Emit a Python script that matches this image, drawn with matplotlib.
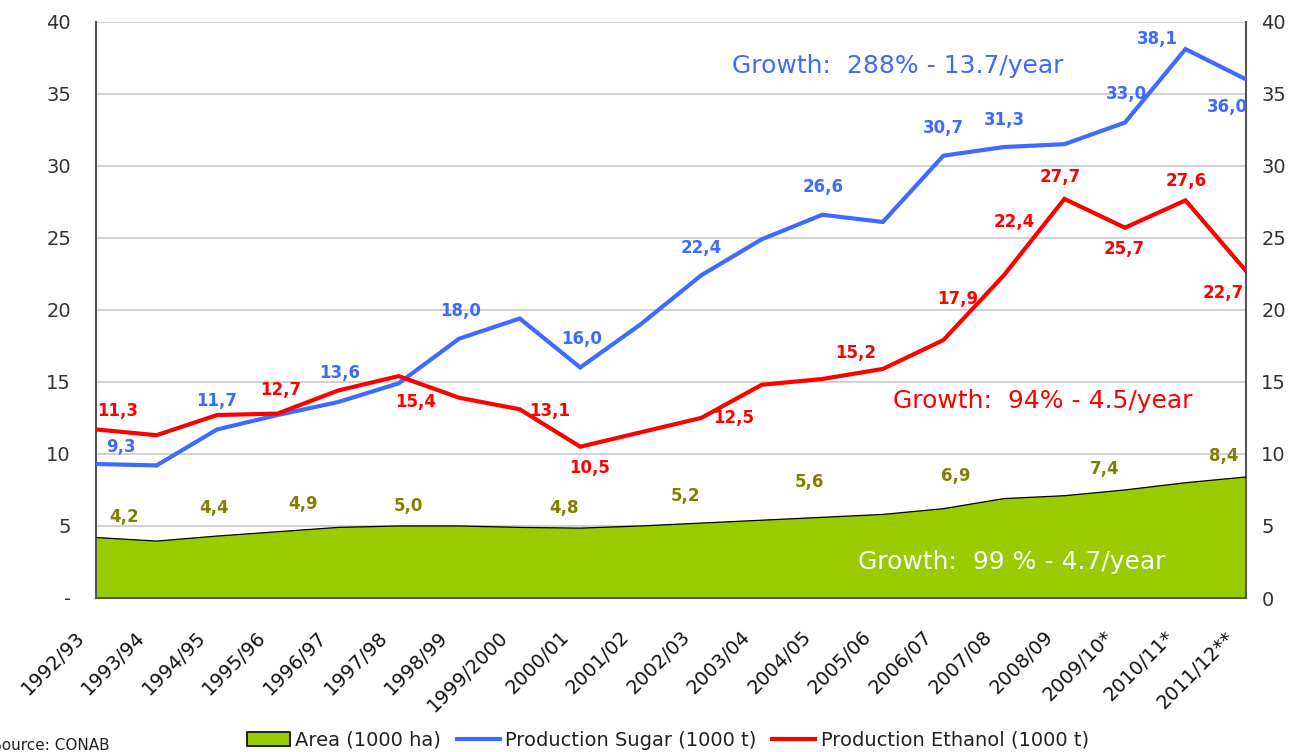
import matplotlib
matplotlib.use("Agg")
import matplotlib.pyplot as plt
import matplotlib.patches as mpatches
import matplotlib.lines as mlines
import matplotlib.transforms as mtransforms
import numpy as np

# ---------------- data ----------------
seasons = ["1992/93", "1993/94", "1994/95", "1995/96", "1996/97", "1997/98",
           "1998/99", "1999/2000", "2000/01", "2001/02", "2002/03", "2003/04",
           "2004/05", "2005/06", "2006/07", "2007/08", "2008/09", "2009/10*",
           "2010/11*", "2011/12**"]
sugar = [9.3, 9.2, 11.7, 12.7, 13.6, 14.9, 18.0, 19.4, 16.0, 19.0, 22.4, 24.9,
         26.6, 26.1, 30.7, 31.3, 31.5, 33.0, 38.1, 36.0]
ethanol = [11.7, 11.3, 12.7, 12.8, 14.4, 15.4, 13.9, 13.1, 10.5, 11.5, 12.5, 14.8,
           15.2, 15.9, 17.9, 22.4, 27.7, 25.7, 27.6, 22.7]
area = [4.2, 3.95, 4.3, 4.6, 4.9, 5.0, 5.0, 4.9, 4.85, 5.0, 5.2, 5.4,
        5.6, 5.8, 6.2, 6.9, 7.1, 7.5, 8.0, 8.4]

sugar_label_text = ["9,3", "11,7", "13,6", "18,0", "16,0", "22,4", "26,6",
                    "30,7", "31,3", "33,0", "38,1", "36,0"]
ethanol_label_text = ["11,3", "12,7", "15,4", "13,1", "10,5", "12,5", "15,2",
                      "17,9", "22,4", "27,7", "25,7", "27,6", "22,7"]
area_label_text = ["4,2", "4,4", "4,9", "5,0", "4,8", "5,2", "5,6", "6,9",
                   "7,4", "8,4"]

growth_sugar = "Growth:  288% - 13.7/year"
growth_ethanol = "Growth:  94% - 4.5/year"
growth_area = "Growth:  99 % - 4.7/year"

left_ticks = [0, 5, 10, 15, 20, 25, 30, 35, 40]
left_tick_labels = ["-", "5", "10", "15", "20", "25", "30", "35", "40"]

# ---------------- layout (label placement, data coords) ----------------
sugar_label_pos = [(0.41, 10.47), (2.0, 13.69), (4.02, 15.6), (6.02, 19.9),
                   (8.03, 18.0), (10.0, 24.3), (12.02, 28.5), (14.0, 32.6),
                   (15.01, 33.2), (17.02, 34.96), (17.54, 38.77), (18.69, 34.08)]
ethanol_label_pos = [(0.36, 13.0), (3.06, 14.45), (5.29, 13.6), (7.5, 13.0),
                     (8.15, 9.05), (10.53, 12.5), (12.55, 17.0), (14.23, 20.78),
                     (15.17, 26.1), (15.93, 29.2), (16.98, 24.19), (18.02, 28.96),
                     (18.63, 21.19)]
area_label_pos = [(0.46, 5.59), (1.95, 6.27), (3.42, 6.54), (5.16, 6.4),
                  (7.74, 6.27), (9.74, 7.06), (11.79, 8.04), (14.21, 8.5),
                  (16.66, 8.97), (18.63, 9.87)]

BLUE = "#3d6bff"
RED = "#ff0000"
GREEN = "#99cc00"
OLIVE = "#808000"
FONT = "DejaVu Sans"

plt.rcParams["font.family"] = [FONT]

fig = plt.figure(figsize=(12.92, 7.52), dpi=100)
ax = fig.add_axes([96 / 1292, 1 - 598 / 752, 1150 / 1292, (598 - 21.7) / 752])

x = np.arange(len(seasons))

ax.fill_between(x, 0, area, color=GREEN, zorder=2)
ax.plot(x, area, color="black", lw=0.9, zorder=3)
ax.plot(x, sugar, color=BLUE, lw=3, zorder=4, solid_joinstyle="miter")
ax.plot(x, ethanol, color=RED, lw=3, zorder=4, solid_joinstyle="miter")

ax.set_xlim(0, len(seasons) - 1)
ax.set_ylim(0, 40)

ax.set_yticks(left_ticks)
ax.set_yticklabels(left_tick_labels, fontsize=14, color="#333333")
ax.yaxis.grid(True, color="#c8c8c8", lw=1.2, zorder=0)
ax.set_axisbelow(True)
ax.tick_params(axis="y", length=0, pad=18)

ax.set_xticks(x)
ax.set_xticklabels(seasons, rotation=45, ha="right", rotation_mode="anchor",
                   fontsize=14, color="#111111")
ax.tick_params(axis="x", length=0, pad=14)
shift = mtransforms.ScaledTranslation(-0.21, -0.10, fig.dpi_scale_trans)
for lbl in ax.get_xticklabels():
    lbl.set_transform(lbl.get_transform() + shift)

for s in ["left", "bottom", "right"]:
    ax.spines[s].set_color("#555555")
    ax.spines[s].set_linewidth(1.5)
ax.spines["top"].set_visible(False)

ax2 = ax.twinx()
ax2.set_ylim(0, 40)
ax2.set_yticks(left_ticks)
ax2.set_yticklabels([str(v) for v in left_ticks], fontsize=14, color="#333333")
ax2.tick_params(axis="y", length=0, pad=11)
for s in ["left", "bottom", "right", "top"]:
    ax2.spines[s].set_visible(False)

for t, (px, py) in zip(sugar_label_text, sugar_label_pos):
    ax.text(px, py, t, color=BLUE, fontsize=12, fontweight="bold",
            ha="center", va="center", zorder=6)
for t, (px, py) in zip(ethanol_label_text, ethanol_label_pos):
    ax.text(px, py, t, color=RED, fontsize=12, fontweight="bold",
            ha="center", va="center", zorder=6)
for t, (px, py) in zip(area_label_text, area_label_pos):
    ax.text(px, py, t, color=OLIVE, fontsize=12, fontweight="bold",
            ha="center", va="center", zorder=6)

ax.text((732 - 96) / 60.5, 36.9, growth_sugar, color=BLUE, fontsize=18,
        ha="left", va="center", zorder=6)
ax.text((893 - 96) / 60.5, 13.69, growth_ethanol, color=RED, fontsize=18,
        ha="left", va="center", zorder=6)
ax.text((858 - 96) / 60.5, 2.5, growth_area, color="white", fontsize=18,
        ha="left", va="center", zorder=6)

handles = [
    mpatches.Patch(facecolor=GREEN, edgecolor="black", lw=1.2, label="Area (1000 ha)"),
    mlines.Line2D([], [], color=BLUE, lw=3, label="Production Sugar (1000 t)"),
    mlines.Line2D([], [], color=RED, lw=3, label="Production Ethanol (1000 t)"),
]
fig.legend(handles=handles, loc="center", bbox_to_anchor=(668 / 1292, 1 - 740 / 752),
           ncol=3, frameon=False, fontsize=14, handlelength=2.2, handletextpad=0.3,
           columnspacing=0.8, labelcolor="#222222")

fig.text(-0.006, 1 - 745 / 752, "Source: CONAB", fontsize=11, ha="left",
         va="center", color="#222222")

fig.savefig("out.png", dpi=100)
